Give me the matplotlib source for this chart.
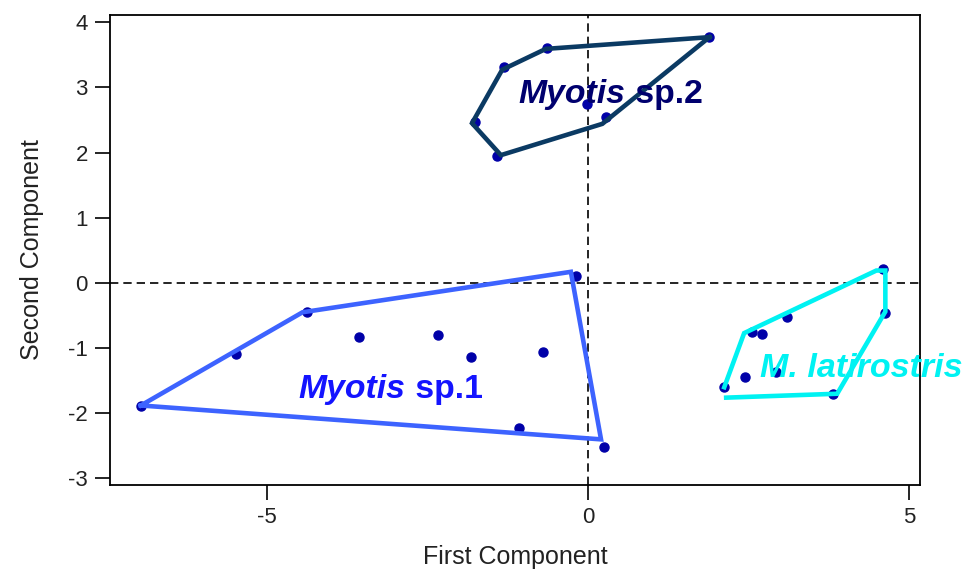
import matplotlib
matplotlib.use('Agg')
import matplotlib.pyplot as plt

plt.rcParams['font.family'] = ['Liberation Sans', 'DejaVu Sans']
plt.rcParams['axes.unicode_minus'] = False

# point scores (first, second component)
sp1_x = [-6.97, -5.48, -4.38, -3.57, -2.34, -1.83, -0.70, -1.08, -0.19, 0.25]
sp1_y = [-1.89, -1.09, -0.44, -0.83, -0.80, -1.13, -1.06, -2.22, 0.11, -2.52]
sp2_x = [-0.64, -1.31, -1.76, -1.42, 0.28, -0.02, 1.89]
sp2_y = [3.60, 3.31, 2.47, 1.95, 2.55, 2.75, 3.77]
lat_x = [4.60, 4.63, 3.10, 2.56, 2.71, 2.45, 2.11, 2.93, 3.81]
lat_y = [0.21, -0.46, -0.53, -0.75, -0.78, -1.44, -1.60, -1.36, -1.70]

# hand drawn hull outlines
hull1_x = [-6.97, -4.45, -0.27, 0.20, -6.97]
hull1_y = [-1.88, -0.45, 0.17, -2.40, -1.88]
hull2_x = [1.89, -0.66, -1.34, -1.81, -1.36, 0.22, 1.89]
hull2_y = [3.77, 3.59, 3.27, 2.45, 1.96, 2.44, 3.77]
hull3_x = [2.15, 3.88, 4.63, 4.63, 4.49, 2.43, 2.12]
hull3_y = [-1.76, -1.70, -0.44, 0.19, 0.19, -0.77, -1.60]

x_ticks = [-5, 0, 5]
y_ticks = [-3, -2, -1, 0, 1, 2, 3, 4]

fig = plt.figure(figsize=(9.67, 5.72), dpi=100)
ax = fig.add_axes([0.1138, 0.1521, 0.8376, 0.8217])

ax.axhline(0, color='black', lw=1.2, ls=(0, (5, 3)), zorder=1)
ax.axvline(0, color='black', lw=1.2, ls=(0, (5, 3)), zorder=1)

pt_col = '#0000a8'
for xs, ys in [(sp1_x, sp1_y), (sp2_x, sp2_y), (lat_x, lat_y)]:
    ax.plot(xs, ys, 'o', color=pt_col, ms=6.5, zorder=2)

ax.plot(hull1_x, hull1_y, color='#3d63ff', lw=3.3, zorder=3, solid_joinstyle='miter')
ax.plot(hull2_x, hull2_y, color='#0b3a63', lw=3.3, zorder=3, solid_joinstyle='miter')
ax.plot(hull3_x, hull3_y, color='#00f2f2', lw=3.3, zorder=3, solid_joinstyle='miter')


def species_label(x, y, genus, rest, color):
    t = ax.text(x, y, genus, color=color, fontsize=24.3, fontweight='bold',
                fontstyle='italic', ha='left', va='bottom', zorder=4,
                clip_on=False)
    ax.annotate(rest, xy=(1, 0), xycoords=t, color=color, fontsize=24.3,
                fontweight='bold', ha='left', va='bottom', zorder=4,
                annotation_clip=False)


species_label(-1.08, 2.66, 'Myotis', ' sp.2', '#00006e')
species_label(-4.51, -1.88, 'Myotis', ' sp.1', '#1414ff')
ax.text(2.67, -1.55, 'M. latirostris', color='#00f2f2', fontsize=24.5,
        fontweight='bold', fontstyle='italic', ha='left', va='bottom',
        zorder=4, clip_on=False)

ax.set_xlim(-7.45, 5.17)
ax.set_ylim(-3.10, 4.11)
ax.set_xticks(x_ticks)
ax.set_yticks(y_ticks)
ax.tick_params(direction='out', length=11, width=1.2, labelsize=16,
               labelcolor='#222222', pad=5)
for s in ax.spines.values():
    s.set_linewidth(1.3)

ax.set_xlabel('First Component', fontsize=18, color='#222222', labelpad=12)
ax.set_ylabel('Second Component', fontsize=18, color='#222222', labelpad=17)

fig.savefig('out.png', dpi=100)
